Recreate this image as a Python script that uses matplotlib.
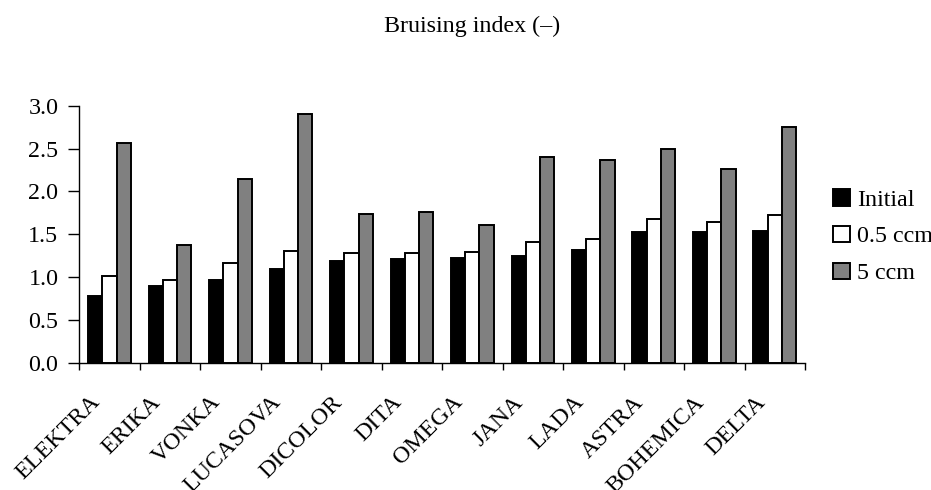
import matplotlib
matplotlib.use("Agg")
import matplotlib.pyplot as plt
from matplotlib.transforms import ScaledTranslation
import numpy as np

categories = ["ELEKTRA", "ERIKA", "VONKA", "LUCASOVA", "DICOLOR", "DITA",
              "OMEGA", "JANA", "LADA", "ASTRA", "BOHEMICA", "DELTA"]
initial = [0.78, 0.90, 0.96, 1.09, 1.19, 1.21, 1.22, 1.24, 1.32, 1.52, 1.53, 1.54]
ccm_05 = [1.01, 0.96, 1.16, 1.30, 1.28, 1.28, 1.29, 1.41, 1.44, 1.68, 1.64, 1.72]
ccm_5 = [2.57, 1.37, 2.15, 2.90, 1.74, 1.76, 1.61, 2.40, 2.37, 2.49, 2.26, 2.75]
series_names = ["Initial", "0.5 ccm", "5 ccm"]
yticks = [0.0, 0.5, 1.0, 1.5, 2.0, 2.5, 3.0]
title = "Bruising index (–)"

plt.rcParams["font.family"] = ["Liberation Serif", "DejaVu Serif"]
FS = 17.3

W, H = 931, 490
fig = plt.figure(figsize=(W / 100, H / 100), dpi=100)
ax = fig.add_axes([79.3 / W, 1 - 362.7 / H, (805 - 79.3) / W, (362.7 - 105.7) / H])

x = np.arange(len(categories))
bw = 0.235
colors = ["black", "white", "#808080"]
data = [initial, ccm_05, ccm_5]
handles = []
for i, (vals, c, name) in enumerate(zip(data, colors, series_names)):
    b = ax.bar(x + (i - 1) * bw, vals, bw, color=c, edgecolor="black",
               linewidth=1.4, label=name, zorder=2)
    handles.append(b)

ax.set_xlim(-0.5, len(categories) - 0.5)
ax.set_ylim(0, 3.0)
ax.set_yticks(yticks)
ax.set_yticklabels([f"{v:.1f}" for v in yticks], fontsize=FS)
ax.tick_params(axis="y", direction="out", length=8, width=1, pad=7)

# category labels at centers, boundary ticks as minor ticks
ax.set_xticks(x)
ax.set_xticklabels(categories, fontsize=FS, rotation=45, ha="right",
                   va="baseline", rotation_mode="anchor")
ax.tick_params(axis="x", which="major", length=0, pad=29)
ax.set_xticks(np.arange(-0.5, len(categories) + 0.5, 1.0), minor=True)
ax.tick_params(axis="x", which="minor", direction="out", length=5, width=1)
shift = ScaledTranslation(-9 / 100, 0, fig.dpi_scale_trans)
for lab in ax.get_xticklabels():
    lab.set_transform(lab.get_transform() + shift)

for s in ["top", "right"]:
    ax.spines[s].set_visible(False)
for s in ["left", "bottom"]:
    ax.spines[s].set_linewidth(1)
    ax.spines[s].set_color("black")

fig.text(472 / W, 1 - 26 / H, title, ha="center", va="center", fontsize=FS)

leg = fig.legend(handles=handles, labels=series_names, loc="upper left",
                 bbox_to_anchor=(833 / W, 1 - 189 / H), frameon=False,
                 fontsize=FS, handlelength=0.72, handleheight=0.68,
                 handletextpad=0.27, labelspacing=0.63, borderpad=0,
                 borderaxespad=0)
for p in leg.get_patches():
    p.set_linewidth(1.4)

fig.savefig("out.png", dpi=100)
